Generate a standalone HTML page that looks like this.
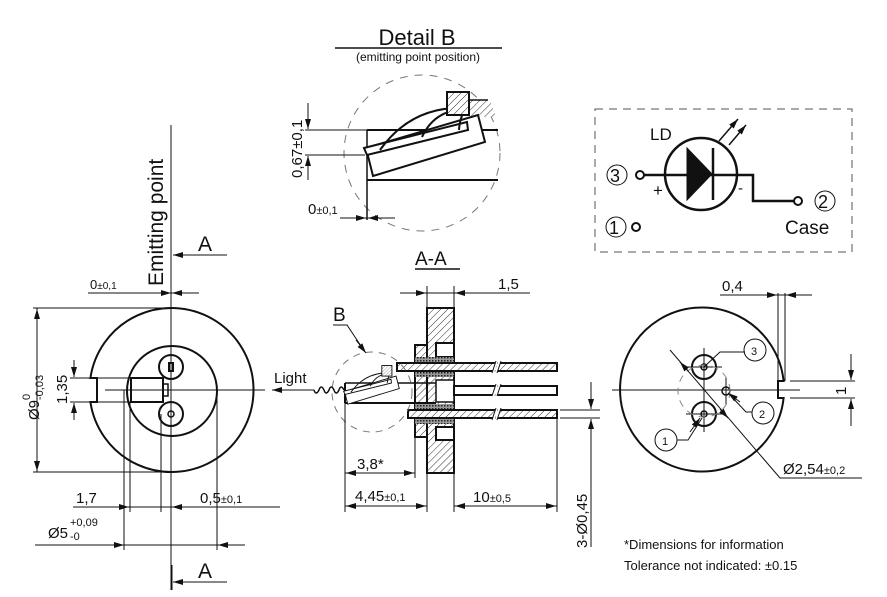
<!DOCTYPE html>
<html><head><meta charset="utf-8"><style>
html,body{margin:0;padding:0;background:#fff}
svg{display:block}
text{font-family:"Liberation Sans",Arial,sans-serif;fill:#111}
</style></head><body>
<svg width="887" height="597" viewBox="0 0 887 597" xmlns="http://www.w3.org/2000/svg">
<defs>
<pattern id="h" width="5" height="5" patternUnits="userSpaceOnUse" patternTransform="rotate(45)">
<rect width="5" height="5" fill="#fff"/><line x1="0" y1="0" x2="0" y2="5" stroke="#333" stroke-width="1"/></pattern>
<pattern id="g" width="3" height="3" patternUnits="userSpaceOnUse">
<rect width="3" height="3" fill="#999"/><rect width="1.5" height="1.5" fill="#222"/></pattern>
<marker id="a" markerWidth="10" markerHeight="6" refX="10" refY="3" orient="auto-start-reverse" markerUnits="userSpaceOnUse"><path d="M0,0 L10,3 L0,6z" fill="#111"/></marker>
<g id="chip">
<polygon points="-1,18 111,-15 118,12 6,46" fill="#fff" stroke="#111" stroke-width="2"/>
<polygon points="-3,18 100,-8 101,0 0,25" fill="#fff" stroke="#111" stroke-width="2"/>
<path d="M13,20 Q45,-25 100,-22" fill="none" stroke="#111" stroke-width="2"/>
<path d="M55,7 Q65,-15 88,-20" fill="none" stroke="#111" stroke-width="2"/>
<path d="M92,0 Q93,-15 100,-22" fill="none" stroke="#111" stroke-width="2"/>
<rect x="80" y="-38" width="22" height="23" fill="url(#h)" stroke="#111" stroke-width="2"/>
</g>
</defs>
<g stroke="#111" fill="none" stroke-width="1">

<!-- LEFT VIEW -->
<line x1="171" y1="125" x2="171" y2="590"/>
<line x1="105" y1="390" x2="265" y2="390"/>
<path d="M 90.4 378 A 82 82 0 1 1 90.4 402 L 97 402 L 97 378 Z" stroke-width="2"/>
<circle cx="172" cy="391" r="45" stroke-width="2"/>
<circle cx="171" cy="367" r="12" stroke-width="2"/>
<rect x="169" y="363" width="4" height="8" stroke-width="2"/>
<circle cx="171" cy="414" r="12" stroke-width="2"/>
<circle cx="171" cy="414" r="3" stroke-width="1.5"/>
<rect x="131" y="378" width="32" height="24" stroke-width="2"/>
<rect x="163" y="384" width="5" height="12" stroke-width="1.5"/>
<!-- dims left -->
<line x1="88" y1="293" x2="199" y2="293"/>
<line x1="158" y1="293" x2="171" y2="293" marker-end="url(#a)"/>
<line x1="184" y1="293" x2="172" y2="293" marker-end="url(#a)"/>
<line x1="33" y1="308" x2="171" y2="308"/><line x1="33" y1="472" x2="171" y2="472"/>
<line x1="37" y1="320" x2="37" y2="309" marker-end="url(#a)"/><line x1="37" y1="460" x2="37" y2="471" marker-end="url(#a)"/><line x1="37" y1="308" x2="37" y2="472"/>
<line x1="70" y1="378" x2="131" y2="378"/><line x1="70" y1="402" x2="131" y2="402"/>
<line x1="74" y1="360" x2="74" y2="377" marker-end="url(#a)"/><line x1="74" y1="420" x2="74" y2="403" marker-end="url(#a)"/>
<line x1="124" y1="390" x2="124" y2="550"/><line x1="130" y1="402" x2="130" y2="512"/>
<line x1="161" y1="414" x2="161" y2="512"/><line x1="217" y1="391" x2="217" y2="550"/>
<line x1="73" y1="507" x2="280" y2="507"/>
<line x1="118" y1="507" x2="129" y2="507" marker-end="url(#a)"/>
<line x1="185" y1="507" x2="172" y2="507" marker-end="url(#a)"/>
<line x1="35" y1="545" x2="245" y2="545"/>
<line x1="112" y1="545" x2="124" y2="545" marker-end="url(#a)"/>
<line x1="230" y1="545" x2="218" y2="545" marker-end="url(#a)"/>
<line x1="227" y1="255" x2="173" y2="255" marker-end="url(#a)"/>
<line x1="227" y1="582" x2="173" y2="582" marker-end="url(#a)"/>
<line x1="172" y1="565" x2="172" y2="590"/>

<!-- CENTER SECTION -->
<rect x="427" y="308" width="27" height="165" fill="url(#h)" stroke-width="2"/>
<rect x="415" y="345" width="12" height="92" fill="url(#h)" stroke-width="2"/>
<rect x="436" y="343" width="18" height="14" fill="#fff" stroke-width="2"/>
<rect x="436" y="427" width="18" height="13" fill="#fff" stroke-width="2"/>
<rect x="436" y="380" width="18" height="22" fill="#fff" stroke-width="1.5"/>
<rect x="415" y="357" width="39" height="6" fill="url(#g)" stroke="none"/>
<rect x="415" y="371" width="39" height="6" fill="url(#g)" stroke="none"/>
<rect x="415" y="404" width="39" height="6" fill="url(#g)" stroke="none"/>
<rect x="415" y="418" width="39" height="6" fill="url(#g)" stroke="none"/>
<rect x="397" y="363" width="160" height="8" fill="url(#h)" stroke-width="2"/>
<rect x="454" y="386" width="103" height="9" fill="#fff" stroke-width="2"/>
<rect x="408" y="410" width="149" height="8" fill="url(#h)" stroke-width="2"/>
<path d="M497,360 l-4,13 M500,360 l-4,13 M497,383 l-4,14 M500,383 l-4,14 M497,407 l-4,14 M500,407 l-4,14" stroke="#fff" stroke-width="2.5"/>
<path d="M496,361 l-4,12 M501,361 l-4,12 M496,384 l-4,12 M501,384 l-4,12 M496,408 l-4,12 M501,408 l-4,12" stroke="#111"/>
<line x1="345" y1="383" x2="436" y2="383" stroke-width="1.5"/>
<line x1="345" y1="403" x2="436" y2="403" stroke-width="2"/>
<line x1="345" y1="383" x2="345" y2="403" stroke-width="2"/>
<use href="#chip" transform="translate(345,383) scale(0.46)"/>
<circle cx="372" cy="392" r="40" stroke="#777" stroke-dasharray="7,6"/>
<path d="M344,390 q-3,-6 -5,0 q-3,6 -5,0 q-3,-6 -5,0 q-3,6 -5,0 q-3,-6 -5,0 q-3,6 -5,0" stroke-width="1.5"/>
<line x1="314" y1="390" x2="272" y2="390" marker-end="url(#a)"/>
<path d="M333,325 h14 L365,352" />
<line x1="356" y1="340" x2="366" y2="353" marker-end="url(#a)"/>
<line x1="415" y1="269" x2="460" y2="269" stroke-width="1.5"/>
<line x1="427" y1="286" x2="427" y2="308"/><line x1="454" y1="286" x2="454" y2="308"/>
<line x1="400" y1="293" x2="530" y2="293"/>
<line x1="414" y1="293" x2="426" y2="293" marker-end="url(#a)"/>
<line x1="467" y1="293" x2="455" y2="293" marker-end="url(#a)"/>
<line x1="345" y1="403" x2="345" y2="512"/><line x1="415" y1="437" x2="415" y2="478"/>
<line x1="427" y1="473" x2="427" y2="512"/><line x1="454" y1="473" x2="454" y2="512"/><line x1="557" y1="418" x2="557" y2="512"/>
<line x1="345" y1="473" x2="415" y2="473"/>
<line x1="357" y1="473" x2="346" y2="473" marker-end="url(#a)"/><line x1="403" y1="473" x2="414" y2="473" marker-end="url(#a)"/>
<line x1="345" y1="506" x2="427" y2="506"/>
<line x1="357" y1="506" x2="346" y2="506" marker-end="url(#a)"/><line x1="415" y1="506" x2="426" y2="506" marker-end="url(#a)"/>
<line x1="454" y1="506" x2="557" y2="506"/>
<line x1="466" y1="506" x2="455" y2="506" marker-end="url(#a)"/><line x1="545" y1="506" x2="556" y2="506" marker-end="url(#a)"/>
<line x1="560" y1="410" x2="600" y2="410"/><line x1="560" y1="418" x2="600" y2="418"/>
<line x1="591" y1="382" x2="591" y2="409" marker-end="url(#a)"/>
<line x1="591" y1="547" x2="591" y2="419" marker-end="url(#a)"/>

<!-- RIGHT VIEW -->
<path d="M 783.6 381 A 82 82 0 1 0 783.6 398 L 778 398 L 778 381 Z" stroke-width="2"/>
<line x1="612" y1="390" x2="800" y2="390"/>
<line x1="704" y1="348" x2="704" y2="432"/>
<line x1="686" y1="367" x2="722" y2="367"/><line x1="686" y1="414" x2="722" y2="414"/>
<line x1="726" y1="378" x2="726" y2="405"/>
<circle cx="704" cy="367" r="12" stroke-width="2"/><circle cx="704" cy="367" r="3" stroke-width="1.5"/>
<circle cx="704" cy="414" r="12" stroke-width="2"/><circle cx="704" cy="414" r="3" stroke-width="1.5"/>
<circle cx="726" cy="391" r="4" stroke-width="1.5"/>
<circle cx="704" cy="391" r="26" stroke="#888" stroke-dasharray="7,6"/>
<path d="M670,350 L780,478 H862"/>
<line x1="680" y1="362" x2="688" y2="371" marker-start="url(#a)"/>
<line x1="720" y1="409" x2="728" y2="418" marker-end="url(#a)"/>
<path d="M704,367 L720,352 H745"/><circle cx="755" cy="350" r="11"/>
<line x1="740" y1="402" x2="728" y2="393" marker-end="url(#a)"/><path d="M730,395 L746,412 H752"/><circle cx="763" cy="413" r="11"/>
<path d="M702,418 L688,440 H677"/><circle cx="666" cy="440" r="11"/>
<line x1="690" y1="432" x2="700" y2="418" marker-end="url(#a)"/>
<line x1="778" y1="293" x2="778" y2="381"/><line x1="785" y1="293" x2="785" y2="381"/>
<line x1="720" y1="295" x2="812" y2="295"/>
<line x1="766" y1="295" x2="777" y2="295" marker-end="url(#a)"/><line x1="797" y1="295" x2="786" y2="295" marker-end="url(#a)"/>
<line x1="790" y1="381" x2="855" y2="381"/><line x1="790" y1="398" x2="855" y2="398"/>
<line x1="851" y1="354" x2="851" y2="380" marker-end="url(#a)"/><line x1="851" y1="426" x2="851" y2="399" marker-end="url(#a)"/>

<!-- DETAIL B -->
<line x1="335" y1="48" x2="502" y2="48" stroke-width="1.5"/>
<circle cx="422" cy="153" r="78" stroke="#777" stroke-dasharray="8,7"/>
<polygon points="469,100 490,100 496,117 469,117" fill="url(#h)" stroke="none"/>
<line x1="469" y1="100" x2="488" y2="100" stroke-width="1.5"/>
<line x1="367" y1="130" x2="498" y2="130" stroke-width="2"/>
<line x1="367" y1="180" x2="498" y2="180" stroke-width="2"/>
<line x1="367" y1="130" x2="367" y2="220" stroke-width="1.5"/>
<use href="#chip" transform="translate(367,130)"/>
<line x1="305" y1="130" x2="370" y2="130"/><line x1="305" y1="155" x2="365" y2="155"/>
<line x1="308" y1="103" x2="308" y2="129" marker-end="url(#a)"/><line x1="308" y1="180" x2="308" y2="156" marker-end="url(#a)"/>
<line x1="340" y1="218" x2="395" y2="218"/>
<line x1="355" y1="218" x2="366" y2="218" marker-end="url(#a)"/><line x1="380" y1="218" x2="368" y2="218" marker-end="url(#a)"/>

<!-- SCHEMATIC -->
<rect x="595" y="109" width="257" height="143" stroke="#555" stroke-dasharray="8,6"/>
<circle cx="701" cy="174" r="36" stroke-width="2.5"/>
<polygon points="687,148 712,174 687,200" fill="#111" stroke="#111"/>
<line x1="713" y1="148" x2="713" y2="200" stroke-width="2.5"/>
<path d="M644,175 H753 V201 H794" stroke-width="2.5"/>
<circle cx="640" cy="175" r="4" stroke-width="2"/><circle cx="798" cy="201" r="4" stroke-width="2"/><circle cx="636" cy="227" r="4" stroke-width="2"/>
<line x1="719" y1="141" x2="738" y2="119" marker-end="url(#a)" stroke-width="1.5"/>
<line x1="729" y1="145" x2="746" y2="125" marker-end="url(#a)" stroke-width="1.5"/>
<circle cx="617" cy="175" r="10"/><circle cx="825" cy="201" r="10"/><circle cx="616" cy="227" r="10"/>
</g>

<g font-size="13">
<text x="90" y="289">0<tspan font-size="10">±0,1</tspan></text>
<text x="76" y="503" font-size="15">1,7</text>
<text x="200" y="503" font-size="15">0,5<tspan font-size="11">±0,1</tspan></text>
<text x="48" y="538" font-size="15">Ø5</text><text x="70" y="526" font-size="11">+0,09</text><text x="70" y="540" font-size="11">-0</text>
<text transform="translate(39,420) rotate(-90)" font-size="15">Ø9</text>
<text transform="translate(30,400) rotate(-90)" font-size="11">0</text>
<text transform="translate(43,400) rotate(-90)" font-size="11">-0,03</text>
<text transform="translate(67,404) rotate(-90)" font-size="15">1,35</text>
<text transform="translate(163,286) rotate(-90)" font-size="21">Emitting point</text>
<text x="198" y="251" font-size="21">A</text>
<text x="198" y="578" font-size="21">A</text>
<text x="415" y="265" font-size="19">A-A</text>
<text x="333" y="321" font-size="19">B</text>
<text x="274" y="383" font-size="15">Light</text>
<text x="498" y="289" font-size="15">1,5</text>
<text x="357" y="469" font-size="15">3,8*</text>
<text x="355" y="501" font-size="15">4,45<tspan font-size="11">±0,1</tspan></text>
<text x="473" y="502" font-size="15">10<tspan font-size="11">±0,5</tspan></text>
<text transform="translate(587,548) rotate(-90)" font-size="15">3-Ø0,45</text>
<text x="722" y="291" font-size="15">0,4</text>
<text transform="translate(846,395) rotate(-90)" font-size="15">1</text>
<text x="783" y="474" font-size="15">Ø2,54<tspan font-size="11">±0,2</tspan></text>
<text x="751" y="355" font-size="11">3</text><text x="759" y="418" font-size="11">2</text><text x="662" y="445" font-size="11">1</text>
<text x="417" y="45" font-size="22" text-anchor="middle">Detail B</text>
<text x="418" y="61" font-size="12" text-anchor="middle">(emitting point position)</text>
<text transform="translate(302,178) rotate(-90)" font-size="15">0,67±0,1</text>
<text x="308" y="214" font-size="15">0<tspan font-size="11">±0,1</tspan></text>
<text x="650" y="140" font-size="17">LD</text>
<text x="653" y="196" font-size="17">+</text>
<text x="738" y="193" font-size="15">-</text>
<text x="610" y="182" font-size="18">3</text><text x="818" y="208" font-size="18">2</text><text x="609" y="234" font-size="18">1</text>
<text x="785" y="234" font-size="19">Case</text>
<text x="624" y="549" font-size="13">*Dimensions for information</text>
<text x="624" y="570" font-size="13">Tolerance not indicated: ±0.15</text>
</g>
</svg>
</body></html>
